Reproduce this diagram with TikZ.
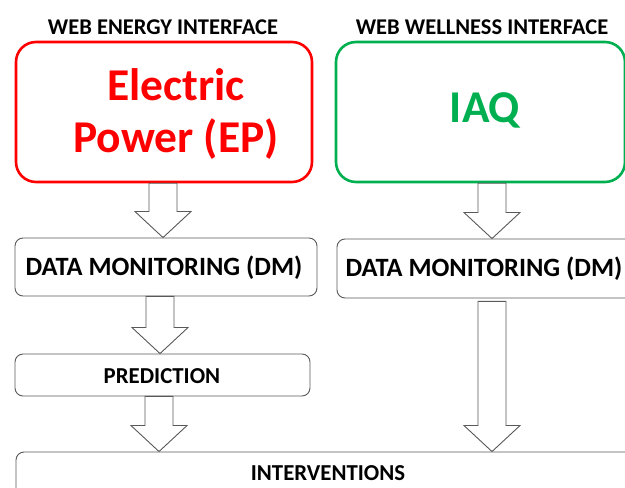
\documentclass[tikz,border=0pt]{standalone}
\usepackage{fontspec}
\setmainfont{Carlito}
\usetikzlibrary{calc}
\definecolor{epred}{HTML}{FF0000}
\definecolor{iaqgreen}{HTML}{00B050}
\definecolor{boxgray}{HTML}{595959}
\tikzset{
  bigbox/.style={draw, rounded corners=20pt, line width=2.6pt, inner sep=0pt},
  stagebox/.style={draw=boxgray, rounded corners=8pt, line width=0.9pt, inner sep=0pt, fill=white},
  barrow/.style={draw=boxgray, line width=0.9pt, fill=white, line join=miter},
  header/.style={font=\bfseries\fontsize{22.5}{26}\selectfont, inner sep=0pt},
  stagetext/.style={font=\bfseries\fontsize{26.4}{30}\selectfont, inner sep=0pt},
  smalltext/.style={font=\bfseries\fontsize{22.8}{26}\selectfont, inner sep=0pt},
  bigtext/.style={font=\bfseries\fontsize{45.5}{52}\selectfont, inner sep=0pt, align=center}
}
% #1 = x position, #2 = start anchor, #3 = end anchor (tip), #4 = gap at start
\newcommand\blockarrow[4]{%
  \path[barrow] let \p1=(#2), \p2=(#3) in
    (#1-14,\y1-#4) -- (#1-14,\y2+26) -- (#1-28,\y2+26) -- (#1,\y2)
    -- (#1+28,\y2+26) -- (#1+14,\y2+26) -- (#1+14,\y1-#4) -- cycle;}
\begin{document}
\begin{tikzpicture}[x=1pt,y=1pt]
\useasboundingbox (0,0) rectangle (625,488);
% headers
\node[header] (h1) at (163,461) {WEB ENERGY INTERFACE};
\node[header] (h2) at (482,461) {WEB WELLNESS INTERFACE};
% top boxes
\node[bigbox, draw=epred, minimum width=296pt, minimum height=140pt] (ep) at (164,376) {};
\node[bigtext, text=epred, anchor=center] (eptext) at (176,374) {Electric\\Power (EP)};
\node[bigbox, draw=iaqgreen, minimum width=289pt, minimum height=140pt] (iaq) at (480.5,376) {};
\node[bigtext, text=iaqgreen] (iaqtext) at (485,378) {IAQ};
% data monitoring
\node[stagebox, minimum width=302pt, minimum height=58pt] (dm1) at (166,221) {};
\node[stagetext] (dm1text) at (164,220) {DATA MONITORING (DM)};
\node[stagebox, minimum width=310pt, minimum height=59pt] (dm2) at (492,219.5) {};
\node[stagetext] (dm2text) at (484,219) {DATA MONITORING (DM)};
% prediction
\node[stagebox, minimum width=295pt, minimum height=42pt] (pred) at (162.5,113) {};
\node[smalltext] (predtext) at (162,112) {PREDICTION};
% interventions
\node[stagebox, minimum width=630pt, minimum height=80pt] (int) at (331,-4) {};
\node[smalltext] (inttext) at (328,15) {INTERVENTIONS};
% block arrows
\blockarrow{163}{ep.south}{dm1.north}{0}
\blockarrow{492}{iaq.south}{dm2.north}{0}
\blockarrow{160}{dm1.south}{pred.north}{0}
\blockarrow{159}{pred.south}{int.north}{0}
\blockarrow{492}{dm2.south}{int.north}{3}
\end{tikzpicture}
\end{document}
